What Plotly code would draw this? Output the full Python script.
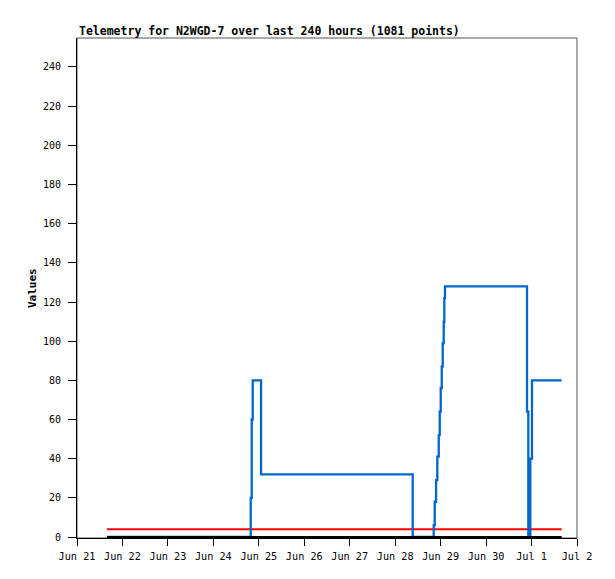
import plotly.graph_objects as go

# Data
blue_times = [
    "2024-06-21 15:50", "2024-06-24 19:43", "2024-06-24 20:15", "2024-06-24 20:47",
    "2024-06-25 01:10", "2024-06-28 09:15",
    "2024-06-28 20:21", "2024-06-28 20:53", "2024-06-28 21:35", "2024-06-28 22:15",
    "2024-06-28 23:00", "2024-06-28 23:31", "2024-06-29 00:03", "2024-06-29 00:35",
    "2024-06-29 01:06", "2024-06-29 01:38", "2024-06-29 01:57", "2024-06-29 02:18",
    "2024-06-30 21:36", "2024-06-30 22:18", "2024-06-30 23:21", "2024-07-01 00:14",
    "2024-07-01 15:55",
]
blue_values = [
    0, 20, 60, 80,
    32, 0,
    6, 18, 29, 41,
    52, 64, 76, 87,
    99, 110, 122, 128,
    64, 0, 40, 80,
    80,
]
red_times = ["2024-06-21 15:50", "2024-07-01 15:55"]
red_values = [4, 4]
black_times = ["2024-06-21 15:50", "2024-07-01 15:55"]
black_values = [0, 0]

x_range = ["2024-06-21 00:00", "2024-07-02 00:00"]
y_ticks = list(range(0, 241, 20))
title_text = "Telemetry for N2WGD-7 over last 240 hours (1081 points)"
y_title = "Values"

mono = "DejaVu Sans Mono"

fig = go.Figure()
fig.add_trace(go.Scatter(x=red_times, y=red_values, mode="lines",
                         line=dict(color="#FF0000", width=2), showlegend=False))
fig.add_trace(go.Scatter(x=blue_times, y=blue_values, mode="lines",
                         line=dict(color="#0066CC", width=2.3, shape="hv"), showlegend=False))
fig.add_trace(go.Scatter(x=black_times, y=black_values, mode="lines",
                         line=dict(color="#000000", width=2), showlegend=False))

# the page body adds an 8px offset; the figure is sized so the plot area lands at 77..577 x 38..538
fig.update_layout(
    width=599, height=563,
    margin=dict(l=69, r=30, t=30, b=33, pad=0, autoexpand=False),
    paper_bgcolor="white", plot_bgcolor="white",
    font=dict(family=mono, size=10, color="#000000"),
    showlegend=False,
    xaxis=dict(
        range=x_range, type="date", tick0="2024-06-21", dtick=86400000,
        tickformat="%b %-d", ticks="outside", ticklen=7, tickcolor="#000000",
        showline=True, linecolor="#000000", linewidth=1, showgrid=False,
        zeroline=False, tickfont=dict(family=mono, size=10.2),
        ticklabelstandoff=2, automargin=False,
    ),
    yaxis=dict(
        range=[-0.5, 254.8], tickvals=y_ticks, ticks="outside", ticklen=8,
        tickcolor="#000000", showline=True, linecolor="#000000", linewidth=1,
        showgrid=False, zeroline=False, tickfont=dict(family=mono, size=10),
        ticklabelstandoff=5, automargin=False,
    ),
    shapes=[dict(type="rect", xref="paper", yref="paper", x0=0, x1=1, y0=0, y1=1,
                 line=dict(color="#555555", width=1), layer="below")],
    annotations=[
        dict(text="<b>" + title_text + "</b>", xref="paper", yref="paper",
             x=0, y=1, xanchor="left", yanchor="middle", yshift=7, showarrow=False,
             font=dict(family=mono, size=11.5, color="#000000")),
        dict(text="<b>" + y_title + "</b>", xref="paper", yref="paper",
             x=0, y=0.5, xanchor="center", yanchor="middle", xshift=-45,
             textangle=-90, showarrow=False,
             font=dict(family=mono, size=11, color="#000000")),
    ],
)

fig.write_html("out.html")
